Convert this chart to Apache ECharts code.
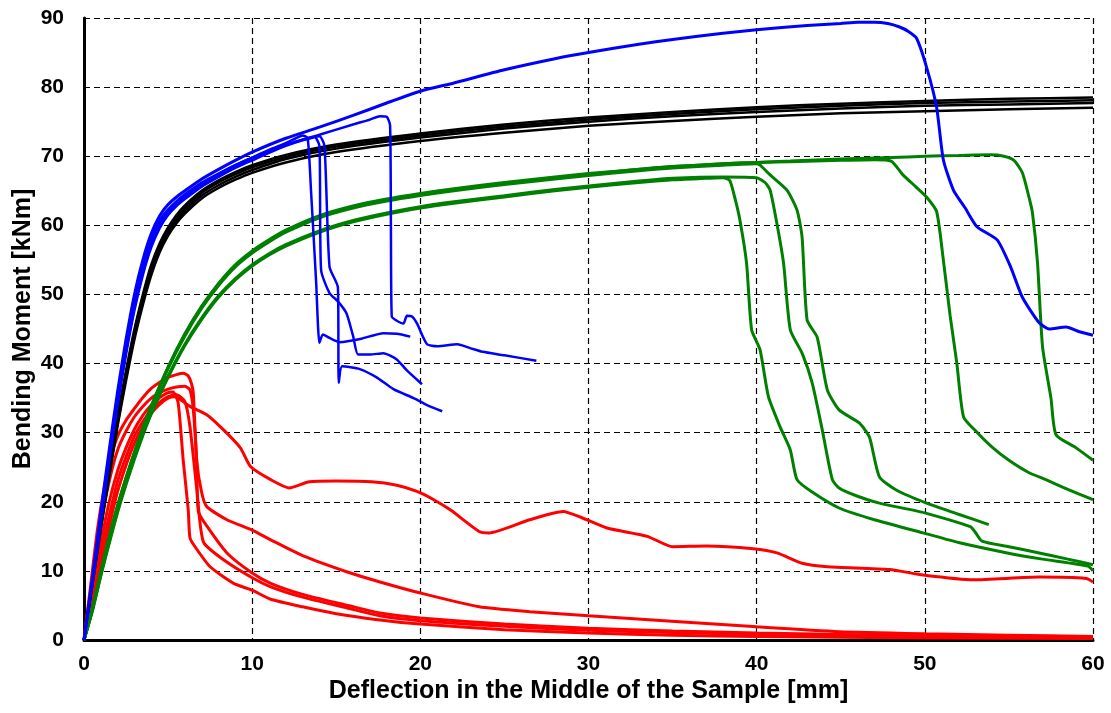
<!DOCTYPE html>
<html>
<head>
<meta charset="utf-8">
<title>Bending moment vs deflection</title>
<script src="https://cdn.jsdelivr.net/npm/echarts@6/dist/echarts.min.js"></script>
<style>
  html, body { margin: 0; padding: 0; background: #fff; }
  #main { width: 1111px; height: 713px; }
</style>
</head>
<body>
<div id="main"></div>
<script>
// axis ticks
var xTicks = [0, 10, 20, 30, 40, 50, 60];
var yTicks = [0, 10, 20, 30, 40, 50, 60, 70, 80, 90];

// black curves [deflection mm, moment kNm]
var black1 = [[0,0],[0.5,8.5],[1,17],[1.5,25],[2,32.5],[2.5,39],[3,45],[3.5,50],[4,54.3],[4.5,57.4],[5,59.7],[5.5,61.5],[6,62.9],[7,65],[8,66.5],[9,67.7],[10,68.7],[12,70.2],[15,71.7],[20,73.3],[25,74.6],[30,75.6],[35,76.4],[40,77.1],[45,77.6],[50,78],[55,78.3],[60,78.5]];
var black2 = [[0,0],[0.5,8.3],[1,16.6],[1.5,24.5],[2,32],[2.5,38.5],[3,44.5],[3.5,49.5],[4,53.8],[4.5,57],[5,59.3],[5.5,61.1],[6,62.5],[7,64.7],[8,66.2],[9,67.4],[10,68.4],[12,69.9],[15,71.4],[20,73],[25,74.3],[30,75.3],[35,76.1],[40,76.8],[45,77.3],[50,77.7],[55,77.9],[60,78.1]];
var black3 = [[0,0],[0.5,8.1],[1,16.2],[1.5,24],[2,31.4],[2.5,38],[3,44],[3.5,49],[4,53.3],[4.5,56.6],[5,58.9],[5.5,60.7],[6,62.1],[7,64.3],[8,65.8],[9,67],[10,68],[12,69.6],[15,71.1],[20,72.7],[25,74],[30,75],[35,75.8],[40,76.4],[45,76.9],[50,77.3],[55,77.5],[60,77.7]];
var black4 = [[0,0],[0.5,8],[1,16],[1.5,23.6],[2,31],[2.5,37.5],[3,43.5],[3.5,48.5],[4,52.8],[4.5,56.1],[5,58.5],[5.5,60.3],[6,61.7],[7,63.9],[8,65.4],[9,66.6],[10,67.6],[12,69.1],[15,70.6],[20,72.2],[25,73.4],[30,74.4],[35,75.1],[40,75.7],[45,76.2],[50,76.5],[55,76.8],[60,77]];

// blue curves
var blue1 = [[0,0],[0.5,9],[1,18.5],[1.5,27.5],[2,36],[2.5,43.5],[3,50],[3.5,55],[4,58.8],[4.5,61.4],[5,63],[5.5,64.1],[6,65],[7,66.7],[8,68.1],[9,69.4],[10,70.6],[12,72.6],[14,74.2],[16,75.9],[18,77.7],[20,79.4],[22,80.6],[25,82.5],[28,84.1],[30,85],[33,86.2],[35,86.9],[38,87.8],[40,88.3],[43,88.9],[45,89.2],[46,89.4],[47,89.4],[47.8,89.2],[48.5,88.7],[49,88.1],[49.5,87.1],[50.1,82.9],[50.7,77.1],[51.1,69.5],[51.7,65.1],[52.4,62.5],[53.1,59.8],[54.3,57.9],[55.1,54],[55.8,49.6],[56.8,45.9],[57.4,45],[58.4,45.3],[59.2,44.6],[60,44.1]];
var blue2 = [[0,0],[0.5,8.7],[1,18],[1.5,27],[2,35.4],[2.5,42.8],[3,49.2],[3.5,54.2],[4,58],[4.5,60.7],[5,62.3],[5.5,63.5],[6,64.5],[7,66.2],[8,67.5],[9,68.7],[10,69.8],[12,71.6],[14,73.1],[16,74.6],[17,75.3],[17.6,75.8],[18,75.7],[18.2,74.5],[18.25,60],[18.3,46.8],[18.6,46.2],[19,45.8],[19.2,46.9],[19.5,46.8],[19.8,45.8],[20.4,42.8],[21,42.5],[22.2,42.8],[23,42.2],[23.7,41.7],[25,41.2],[26.9,40.4]];
var blue3 = [[0,0],[0.5,8.5],[1,17.6],[1.5,26.6],[2,35],[2.5,42.3],[3,48.7],[3.5,53.8],[4,57.6],[4.5,60.3],[5,62],[5.5,63.2],[6,64.2],[7,66],[8,67.4],[9,68.7],[10,69.8],[11,70.9],[12,71.9],[12.6,72.6],[13,73],[13.3,72.6],[13.5,65],[13.8,52],[14,43],[14.2,44.2],[14.6,43.7],[15.2,43.1],[16.5,43.6],[17.8,44.4],[18.6,44.3],[19.4,43.9]];
var blue4 = [[0,0],[0.5,8.4],[1,17.3],[1.5,26.2],[2,34.5],[2.5,41.8],[3,48.2],[3.5,53.3],[4,57.2],[4.5,60],[5,61.8],[5.5,63],[6,64],[7,65.8],[8,67.2],[9,68.5],[10,69.6],[11,70.7],[12,71.7],[13,72.4],[13.7,72.8],[14,71.5],[14.1,53.5],[14.6,50.2],[15.1,49],[15.6,47.3],[16,44],[16.3,41.3],[17,41.3],[17.8,41.5],[18.6,40.6],[19.2,39],[20.1,37]];
var blue5 = [[0,0],[0.5,8.3],[1,17],[1.5,25.8],[2,34],[2.5,41.3],[3,47.7],[3.5,52.8],[4,56.8],[4.5,59.6],[5,61.5],[5.5,62.8],[6,63.8],[7,65.6],[8,67],[9,68.3],[10,69.4],[11,70.5],[12,71.5],[13,72.3],[14,72.9],[14.3,71.5],[14.6,54],[15.1,51],[15.15,37.2],[15.35,39.6],[16.4,39.2],[17.4,38],[18.4,36.3],[19.6,35],[20.4,34],[21.3,33.1]];

// green curves
var green1 = [[0,0],[0.5,4.2],[1,9.3],[1.5,14],[2,18.5],[2.5,22.5],[3,26.2],[3.5,29.6],[4,32.7],[5,38],[6,42.6],[7,46.4],[8,49.6],[9,52.1],[10,54.1],[11,55.7],[12,57],[14,59],[16,60.5],[18,61.6],[20,62.5],[22,63.2],[25,64.1],[28,65],[30,65.5],[33,66.2],[35,66.6],[37,66.8],[38,66.9],[38.4,66.5],[38.7,64],[39,60.8],[39.4,54.5],[39.7,44.9],[40.2,42],[40.7,35.2],[41.4,30.8],[42,27.5],[42.4,23.2],[43.3,21.4],[44.9,19.1],[47,17.4],[49.9,15.5],[52,14.1],[54.9,12.6],[57,11.7],[59.7,10.7],[60,10]];
var green2 = [[0,0],[0.5,4.3],[1,9.4],[1.5,14.2],[2,18.7],[2.5,22.7],[3,26.4],[3.5,29.8],[4,32.9],[5,38.2],[6,42.8],[7,46.6],[8,49.8],[9,52.3],[10,54.3],[11,55.9],[12,57.2],[14,59.2],[16,60.7],[18,61.8],[20,62.7],[22,63.4],[25,64.3],[28,65.2],[30,65.7],[33,66.4],[35,66.8],[38,67],[40,66.9],[40.5,66.2],[40.8,65.1],[41.2,60.3],[41.6,54.5],[42,44.9],[42.7,41.5],[43.3,37.2],[43.9,30.4],[44.5,23.2],[44.9,22],[46,20.8],[47.3,19.8],[50,18.4],[52.7,16.4],[53,15.6],[53.4,14.3],[55,13.5],[56.8,12.6],[58.5,11.7],[60,10.9]];
var green3 = [[0,0],[0.5,4.5],[1,9.8],[1.5,14.8],[2,19.3],[2.5,23.3],[3,27],[3.5,30.5],[4,33.7],[5,39.3],[6,44],[7,48],[8,51.3],[9,54],[10,56],[11,57.6],[12,59],[14,61.1],[16,62.5],[18,63.5],[20,64.3],[22,65],[25,65.9],[28,66.7],[30,67.2],[33,67.9],[35,68.3],[38,68.7],[40,68.9],[40.2,68.7],[40.8,67.3],[41.8,65.1],[42.4,62.2],[42.7,58.3],[43,46.3],[43.6,43.8],[44.2,36.2],[44.9,33.3],[46.1,31.4],[46.7,29.4],[47.3,23.6],[48.3,21.7],[50.1,19.8],[52,18.2],[53.8,16.7]];
var green4 = [[0,0],[0.5,4.6],[1,9.9],[1.5,15],[2,19.5],[2.5,23.5],[3,27.2],[3.5,30.7],[4,33.9],[5,39.5],[6,44.3],[7,48.3],[8,51.6],[9,54.3],[10,56.3],[11,57.9],[12,59.3],[14,61.4],[16,62.8],[18,63.8],[20,64.6],[22,65.3],[25,66.2],[28,67],[30,67.5],[33,68.1],[35,68.5],[38,68.9],[40,69.1],[42,69.2],[45,69.4],[47,69.5],[48,69.3],[48.7,67.3],[49.5,65.5],[50.1,64.1],[50.7,62],[51.1,55],[51.5,47],[51.9,40.1],[52.3,32.3],[53,30.3],[54,27.9],[55,26],[56.2,24.2],[57.2,23.2],[58.5,21.8],[60,20.3]];
var green5 = [[0,0],[0.5,4.5],[1,9.8],[1.5,14.9],[2,19.4],[2.5,23.4],[3,27.1],[3.5,30.6],[4,33.8],[5,39.4],[6,44.2],[7,48.2],[8,51.5],[9,54.2],[10,56.2],[11,57.8],[12,59.2],[14,61.3],[16,62.7],[18,63.7],[20,64.5],[22,65.2],[25,66.1],[28,66.9],[30,67.4],[33,68.1],[35,68.5],[38,68.9],[40,69.1],[42,69.3],[45,69.6],[48,69.8],[50,70],[52,70.1],[53.9,70.2],[54.7,70],[55.3,69.4],[55.8,67.6],[56.2,64],[56.4,61.8],[56.7,54.6],[57,42.4],[57.5,35],[57.8,29.7],[59,27.8],[60,26]];

// red curves
var red1 = [[0,0],[0.4,8],[0.8,16],[1.2,22],[1.6,26.5],[2,29.5],[2.5,31.8],[3,33.5],[3.5,35.1],[4,36.4],[4.5,37.3],[5,38],[5.5,38.4],[5.9,38.6],[6.2,38.2],[6.4,37],[6.5,35.7],[6.7,26],[7,21.3],[7.3,19.3],[8.5,17.4],[10,15.9],[11.1,14.5],[13,12.2],[15.7,9.8],[17.6,8.4],[20,6.8],[23.5,4.8],[26.5,4.1],[30,3.5],[35.4,2.65],[40,1.9],[44.9,1.2],[50,0.9],[55,0.7],[60,0.5]];
var red2 = [[0,0],[0.5,9],[1,17],[1.5,23],[2,27.5],[2.5,30.2],[3,32.3],[3.5,33.8],[4,35],[4.5,35.8],[5,36.3],[5.5,36.6],[6,36.7],[6.3,36.2],[6.5,33.3],[6.7,26],[6.8,18.6],[7.3,16.5],[8.5,12.6],[10,9.7],[11.1,8.2],[13,6.6],[15.7,5],[17.6,3.9],[20,3.2],[25,2.3],[30,1.7],[35,1.3],[40,1],[50,0.6],[60,0.4]];
var red3 = [[0,0],[0.5,7],[1,14],[1.5,20],[2,24.5],[2.5,27.8],[3,30.5],[3.5,32.5],[4,34],[4.5,35.1],[5,35.8],[5.3,35.9],[5.6,34.3],[5.9,26],[6.2,18.8],[6.3,14.8],[6.6,13.5],[7.5,10.6],[8.9,8.2],[10,7.2],[11.1,5.9],[13,4.8],[15,3.8],[17.6,2.9],[20,2.3],[25,1.5],[30,1],[35,0.7],[40,0.5],[50,0.3],[60,0.2]];
var red4 = [[0,0],[0.5,6],[1,12.5],[1.5,18],[2,23],[2.5,26.5],[3,29.5],[3.5,31.6],[4,33.3],[4.5,34.4],[5,35.2],[5.5,35.5],[6,34.5],[6.3,30.9],[6.7,22],[7.1,14.2],[8.3,11.6],[10,9],[11.1,7.7],[13,6.2],[15.7,4.6],[17.6,3.5],[20,2.8],[25,2],[30,1.4],[35,1.1],[40,0.8],[50,0.5],[60,0.3]];
var red5 = [[0,0],[0.5,5],[1,11],[1.5,16.5],[2,21.5],[2.5,25.3],[3,28.5],[3.5,30.9],[4,32.8],[4.5,34.1],[5,35],[5.4,35.2],[6.3,33.8],[7.3,32.6],[8.3,30.4],[9.3,27.8],[9.9,25.1],[11.1,23.2],[12.2,22],[13.4,22.9],[15,23],[17.1,22.9],[18.6,22.4],[19.8,21.5],[20.8,20.3],[21.8,18.8],[23.5,15.7],[24.1,15.5],[26.5,17.4],[28.5,18.6],[29.5,17.8],[31.1,16.2],[33.5,15],[35,13.5],[37,13.6],[39.8,13.2],[41.2,12.6],[42.7,11.1],[44.2,10.6],[47.9,10.2],[49.9,9.4],[52.9,8.7],[56.8,9.1],[59.6,8.9],[60,8.4]];

var FONT = '"Liberation Sans", Arial, sans-serif';

// one line series, lightly smoothed
function curve(data, color, width) {
  return {
    type: 'line',
    data: data,
    symbol: 'none',
    showSymbol: false,
    silent: true,
    smooth: 0.2,
    lineStyle: { color: color, width: width },
    emphasis: { disabled: true }
  };
}

var chart = echarts.init(document.getElementById('main'));

var series = [];
[red1, red2, red3, red4, red5].forEach(function (d) { series.push(curve(d, '#ff0000', 3)); });
[black1, black2, black3, black4].forEach(function (d) { series.push(curve(d, '#000000', 2.5)); });
[green1, green2, green3, green4, green5].forEach(function (d) { series.push(curve(d, '#008000', 3)); });
series.push(curve(blue1, '#0000ff', 3));
[blue2, blue3, blue4, blue5].forEach(function (d) { series.push(curve(d, '#0000ff', 2.5)); });

var option = {
  animation: false,
  backgroundColor: '#ffffff',
  grid: { left: 84, right: 18, top: 18, bottom: 73, outerBoundsMode: 'none' },
  xAxis: {
    type: 'value',
    min: xTicks[0],
    max: xTicks[xTicks.length - 1],
    interval: 10,
    name: 'Deflection in the Middle of the Sample [mm]',
    nameLocation: 'middle',
    nameGap: 39,
    nameMoveOverlap: false,
    nameTextStyle: { fontFamily: FONT, fontWeight: 'bold', fontSize: 25, color: '#000' },
    axisLine: { show: true, onZero: false, lineStyle: { color: '#000', width: 3 } },
    axisTick: { show: false },
    axisLabel: { fontFamily: FONT, fontWeight: 'bold', fontSize: 21, color: '#000', margin: 14 },
    splitLine: { show: true, lineStyle: { color: '#000', width: 1.2, type: [6, 4] } }
  },
  yAxis: {
    type: 'value',
    min: yTicks[0],
    max: yTicks[yTicks.length - 1],
    interval: 10,
    name: 'Bending Moment [kNm]',
    nameLocation: 'middle',
    nameGap: 48,
    nameMoveOverlap: false,
    nameTextStyle: { fontFamily: FONT, fontWeight: 'bold', fontSize: 25, color: '#000' },
    axisLine: { show: true, onZero: false, lineStyle: { color: '#000', width: 3 } },
    axisTick: { show: false },
    axisLabel: { fontFamily: FONT, fontWeight: 'bold', fontSize: 21, color: '#000', margin: 20 },
    splitLine: { show: true, lineStyle: { color: '#000', width: 1.2, type: [6, 4] } }
  },
  series: series
};

chart.setOption(option);
</script>
</body>
</html>
